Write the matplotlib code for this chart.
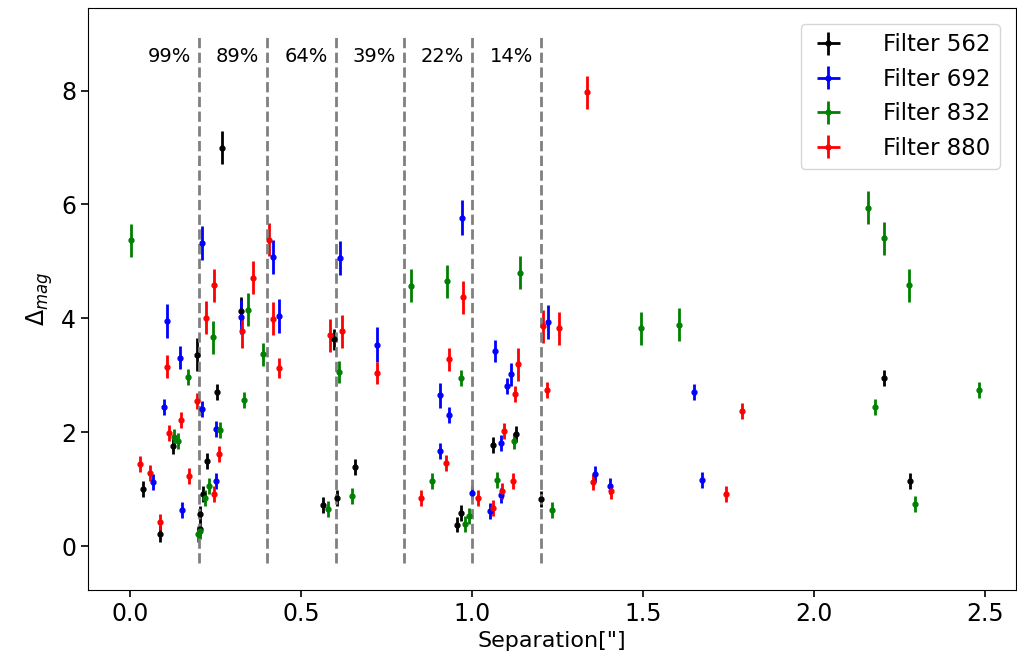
import matplotlib
matplotlib.use('Agg')
import matplotlib.pyplot as plt

# Filter 562
sep_562 = [0.036, 0.087, 0.124, 0.196, 0.204, 0.204, 0.211, 0.225, 0.253, 0.268, 0.324,
           0.564, 0.596, 0.605, 0.657, 0.956, 0.966, 1.060, 1.128, 1.202, 2.205, 2.281]
dmag_562 = [1.01, 0.21, 1.76, 3.36, 0.57, 0.31, 0.92, 1.50, 2.70, 7.00, 4.13,
            0.72, 3.63, 0.84, 1.39, 0.38, 0.59, 1.77, 1.97, 0.83, 2.96, 1.15]
err_562 = [0.14, 0.14, 0.14, 0.29, 0.14, 0.14, 0.14, 0.14, 0.14, 0.29, 0.25,
           0.14, 0.19, 0.14, 0.14, 0.14, 0.14, 0.14, 0.14, 0.14, 0.14, 0.14]

# Filter 692
sep_692 = [0.065, 0.099, 0.106, 0.144, 0.152, 0.209, 0.210, 0.249, 0.250, 0.324, 0.416,
           0.435, 0.614, 0.722, 0.905, 0.905, 0.932, 0.969, 0.999, 1.052, 1.067, 1.083,
           1.085, 1.101, 1.113, 1.220, 1.359, 1.402, 1.648, 1.671]
dmag_692 = [1.12, 2.45, 3.95, 3.31, 0.63, 2.41, 5.32, 1.14, 2.06, 4.02, 5.08,
            4.04, 5.06, 3.54, 2.65, 1.67, 2.31, 5.77, 0.94, 0.61, 3.43, 0.89,
            1.81, 2.81, 3.02, 3.94, 1.26, 1.05, 2.70, 1.17]
err_692 = [0.14, 0.14, 0.30, 0.20, 0.14, 0.14, 0.30, 0.14, 0.14, 0.30, 0.30,
           0.30, 0.30, 0.30, 0.22, 0.14, 0.14, 0.30, 0.12, 0.14, 0.19, 0.14,
           0.14, 0.14, 0.20, 0.30, 0.14, 0.14, 0.14, 0.14]

# Filter 832
sep_832 = [0.002, 0.128, 0.138, 0.169, 0.199, 0.204, 0.218, 0.230, 0.243, 0.261, 0.331,
           0.344, 0.387, 0.577, 0.610, 0.647, 0.821, 0.882, 0.926, 0.967, 0.979, 0.991,
           1.073, 1.121, 1.139, 1.232, 1.494, 1.604, 2.157, 2.179, 2.205, 2.278, 2.294, 2.483]
dmag_832 = [5.37, 1.92, 1.85, 2.97, 0.21, 0.27, 0.84, 1.06, 3.67, 2.04, 2.56,
            4.15, 3.37, 0.65, 3.06, 0.88, 4.57, 1.15, 4.65, 2.96, 0.39, 0.53,
            1.17, 1.84, 4.80, 0.63, 3.83, 3.89, 5.94, 2.45, 5.41, 4.58, 0.74, 2.75]
err_832 = [0.29, 0.14, 0.14, 0.14, 0.14, 0.14, 0.14, 0.14, 0.29, 0.14, 0.14,
           0.29, 0.20, 0.14, 0.19, 0.14, 0.29, 0.14, 0.29, 0.14, 0.14, 0.14,
           0.14, 0.14, 0.29, 0.14, 0.29, 0.29, 0.29, 0.14, 0.29, 0.29, 0.14, 0.14]

# Filter 880
sep_880 = [0.027, 0.058, 0.086, 0.106, 0.114, 0.149, 0.172, 0.196, 0.222, 0.246, 0.246,
           0.259, 0.327, 0.359, 0.404, 0.418, 0.436, 0.583, 0.620, 0.722, 0.849, 0.922,
           0.933, 0.972, 1.018, 1.060, 1.088, 1.093, 1.118, 1.126, 1.135, 1.208, 1.217,
           1.253, 1.336, 1.352, 1.406, 1.743, 1.790]
dmag_880 = [1.44, 1.29, 0.43, 3.15, 1.99, 2.22, 1.23, 2.55, 4.01, 4.58, 0.92,
            1.61, 3.77, 4.71, 5.38, 3.99, 3.13, 3.70, 3.77, 3.04, 0.85, 1.46,
            3.28, 4.37, 0.85, 0.67, 0.97, 2.02, 1.15, 2.67, 3.19, 3.86, 2.75,
            3.83, 7.97, 1.13, 0.96, 0.92, 2.37]
err_880 = [0.14, 0.14, 0.14, 0.20, 0.14, 0.14, 0.14, 0.14, 0.29, 0.29, 0.14,
           0.14, 0.29, 0.29, 0.29, 0.29, 0.17, 0.29, 0.29, 0.20, 0.14, 0.14,
           0.20, 0.29, 0.14, 0.14, 0.14, 0.14, 0.14, 0.14, 0.29, 0.29, 0.14,
           0.29, 0.29, 0.14, 0.14, 0.14, 0.14]

# completeness per separation bin
bin_edges = [0.2, 0.4, 0.6, 0.8, 1.0, 1.2]
bin_labels = ['99%', '89%', '64%', '39%', '22%', '14%']
bin_label_x = [0.05, 0.25, 0.45, 0.65, 0.85, 1.05]

filters = [
    ('Filter 562', sep_562, dmag_562, err_562, 'k'),
    ('Filter 692', sep_692, dmag_692, err_692, 'b'),
    ('Filter 832', sep_832, dmag_832, err_832, 'g'),
    ('Filter 880', sep_880, dmag_880, err_880, 'r'),
]

fig = plt.figure(figsize=(10.17, 6.56), dpi=100)
ax = fig.add_axes([0.0865, 0.1006, 0.9125, 0.8872])

for name, sep, dmag, err, color in filters:
    ax.errorbar(sep, dmag, yerr=err, xerr=0.0, fmt='.', color=color,
                markersize=7, elinewidth=2, label=name)

ax.vlines(bin_edges, -0.3, 9, colors='grey', linestyles='--', linewidth=2)
for x, lab in zip(bin_label_x, bin_labels):
    ax.text(x, 8.6, lab, fontsize=14, va='center', ha='left')

ax.set_xlim(-0.124, 2.59)
ax.set_ylim(-0.77, 9.45)
ax.tick_params(labelsize=17, length=5, width=1.2)
ax.set_xlabel('Separation["]', fontsize=16)
ax.set_ylabel(r'$\Delta_{mag}$', fontsize=17)
ax.legend(loc='upper right', fontsize=16.5, handlelength=1.6, handletextpad=1.6,
          borderaxespad=0.7)

fig.savefig('out.png', dpi=100)
